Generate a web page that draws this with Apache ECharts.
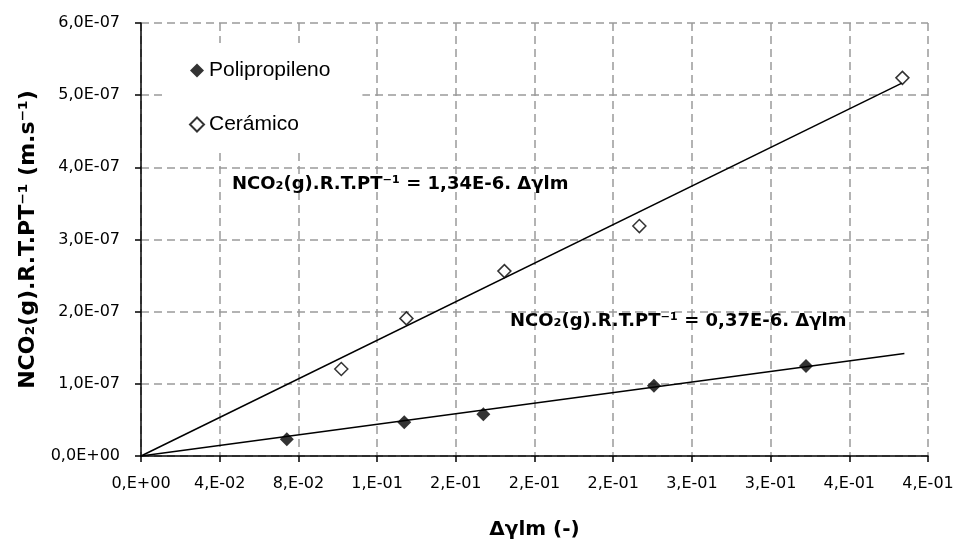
<!DOCTYPE html>
<html>
<head>
<meta charset="utf-8">
<script src="https://cdn.jsdelivr.net/npm/echarts@6/dist/echarts.min.js"></script>
<style>
  html, body { margin: 0; padding: 0; background: #fff; }
  #chart { width: 955px; height: 541px; }
</style>
</head>
<body>
<div id="chart"></div>
<script>
// values
const ppX = [0.0741, 0.1338, 0.1740, 0.2607, 0.3380];
const ppY = [0.231e-7, 0.467e-7, 0.578e-7, 0.974e-7, 1.247e-7];
const ceX = [0.1018, 0.1349, 0.1847, 0.2533, 0.3870];
const ceY = [1.205e-7, 1.907e-7, 2.562e-7, 3.186e-7, 5.24e-7];

// trend lines (start / end as drawn)
const ppTrendX = [0, 0.388];
const ppTrendY = [0, 1.42e-7];
const ceTrendX = [0, 0.387];
const ceTrendY = [0, 5.17e-7];

const seriesNames = ['Polipropileno', 'Cerámico'];
const eqLabels = [
  'NCO₂(g).R.T.PT⁻¹ = 1,34E-6. Δγlm',
  'NCO₂(g).R.T.PT⁻¹ = 0,37E-6. Δγlm'
];

const pairs = (xs, ys) => xs.map((x, i) => [x, ys[i]]);

// excel-like scientific format with comma decimal separator
function sci(v, d) {
  let exp = 0, mant = 0;
  if (Math.abs(v) > 1e-15) {
    exp = Math.floor(Math.log10(Math.abs(v)) + 1e-9);
    mant = v / Math.pow(10, exp);
    mant = Number(mant.toFixed(d));
    if (Math.abs(mant) >= 10) { mant = mant / 10; exp += 1; }
  }
  let s = mant.toFixed(d);
  s = d === 0 ? s + ',' : s.replace('.', ',');
  const e = Math.abs(exp) < 10 ? '0' + Math.abs(exp) : '' + Math.abs(exp);
  return s + 'E' + (exp < 0 ? '-' : '+') + e;
}

const chart = echarts.init(document.getElementById('chart'));

const gridLine = { show: true, lineStyle: { color: '#9a9a9a', width: 1.5, type: [8, 5] } };

const option = {
  animation: false,
  backgroundColor: '#fff',
  grid: { left: 141, right: 27, top: 23, bottom: 85, outerBoundsMode: 'none' },
  legend: {
    orient: 'vertical',
    left: 167,
    top: 43,
    padding: [17, 32, 17, 22],
    itemGap: 33,
    itemWidth: 14,
    itemHeight: 14,
    backgroundColor: '#fff',
    textStyle: { fontFamily: 'Liberation Sans', fontSize: 21, color: '#000' },
    data: seriesNames.map(n => ({ name: n, icon: 'diamond' }))
  },
  xAxis: {
    type: 'value',
    min: 0,
    max: 0.4,
    interval: 0.04,
    name: 'Δγlm (-)',
    nameLocation: 'middle',
    nameGap: 64,
    nameTextStyle: { fontFamily: 'DejaVu Sans', fontWeight: 'bold', fontSize: 20, color: '#000' },
    axisLine: { show: true, onZero: false, lineStyle: { color: '#000', width: 1.5 } },
    axisTick: { show: true, length: 6, lineStyle: { color: '#000', width: 1.5 } },
    axisLabel: {
      margin: 20,
      fontFamily: 'DejaVu Sans', fontSize: 16, color: '#000',
      formatter: v => sci(v, 0)
    },
    splitLine: gridLine
  },
  yAxis: {
    type: 'value',
    min: 0,
    max: 6e-7,
    interval: 1e-7,
    name: 'NCO₂(g).R.T.PT⁻¹ (m.s⁻¹)',
    nameLocation: 'middle',
    nameGap: 99,
    nameTextStyle: { fontFamily: 'DejaVu Sans', fontWeight: 'bold', fontSize: 22, color: '#000' },
    axisLine: { show: true, onZero: false, lineStyle: { color: '#000', width: 1.5 } },
    axisTick: { show: true, length: 6, lineStyle: { color: '#000', width: 1.5 } },
    axisLabel: {
      margin: 21,
      fontFamily: 'DejaVu Sans', fontSize: 16, color: '#000',
      formatter: v => sci(v, 1)
    },
    splitLine: gridLine
  },
  graphic: [
    {
      type: 'text', left: 232, top: 175, z: 10,
      style: { text: eqLabels[0], font: 'bold 18px "DejaVu Sans"', fill: '#000' }
    },
    {
      type: 'text', left: 510, top: 312, z: 10,
      style: { text: eqLabels[1], font: 'bold 18px "DejaVu Sans"', fill: '#000' }
    }
  ],
  series: [
    {
      name: 'trendPP', type: 'line', data: pairs(ppTrendX, ppTrendY),
      showSymbol: false, symbol: 'none', z: 3,
      lineStyle: { color: '#000', width: 1.5 }
    },
    {
      name: 'trendCE', type: 'line', data: pairs(ceTrendX, ceTrendY),
      showSymbol: false, symbol: 'none', z: 3,
      lineStyle: { color: '#000', width: 1.5 }
    },
    {
      name: seriesNames[0], type: 'scatter', data: pairs(ppX, ppY),
      symbol: 'diamond', symbolSize: 14, z: 5,
      itemStyle: { color: '#000' }
    },
    {
      name: seriesNames[1], type: 'scatter', data: pairs(ceX, ceY),
      symbol: 'diamond', symbolSize: 13, z: 5,
      itemStyle: { color: '#fff', borderColor: '#000', borderWidth: 1.5 }
    }
  ]
};

chart.setOption(option);
</script>
</body>
</html>
